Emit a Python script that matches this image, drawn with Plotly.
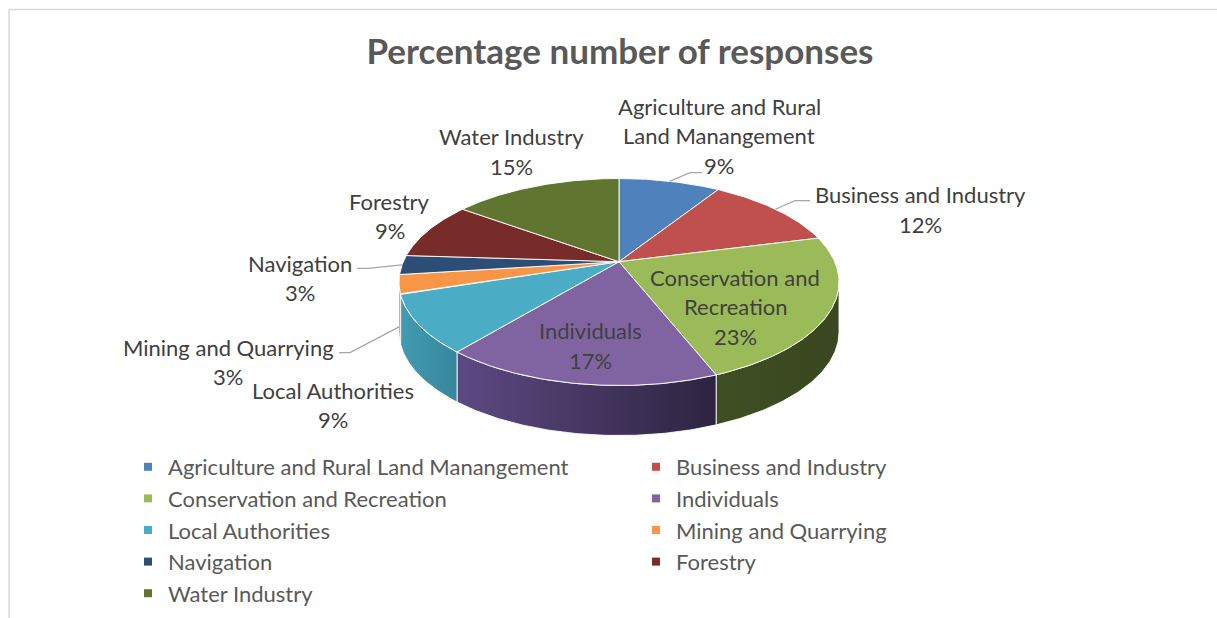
import numpy as np
import plotly.graph_objects as go

# ---- data -------------------------------------------------------------
sectors = [
    "Agriculture and Rural Land Manangement",
    "Business and Industry",
    "Conservation and Recreation",
    "Individuals",
    "Local Authorities",
    "Mining and Quarrying",
    "Navigation",
    "Forestry",
    "Water Industry",
]
shares = [9, 12, 23, 17, 9, 3, 3, 9, 15]

# wrapped names used for the data labels
label_names = [
    "Agriculture and Rural<br>Land Manangement",
    "Business and Industry",
    "Conservation and<br>Recreation",
    "Individuals",
    "Local Authorities",
    "Mining and Quarrying",
    "Navigation",
    "Forestry",
    "Water Industry",
]

top_colors = ["#4F81BD", "#C0504D", "#9BBB59", "#8064A2", "#4BACC6",
              "#F79646", "#2C4D75", "#772C2A", "#5F7530"]
# side-wall shading (left edge colour, right edge colour)
wall_colors = [
    ("#3B618F", "#2F4F75"), ("#934040", "#7A3331"), ("#3F4E23", "#3A4720"),
    ("#5D4982", "#2D2440"), ("#429BB1", "#37879C"), ("#C2773A", "#A8642F"),
    ("#22395A", "#1C304C"), ("#5A2221", "#4A1C1B"), ("#495A25", "#3C4A1F"),
]

# ---- pie geometry (pixel space, y grows downward) ---------------------
CX, CY = 619.0, 282.0      # centre of the projected rim ellipse
RX, RY = 220.0, 103.5      # rim ellipse radii
TILT = -0.196              # perspective shift of the apex towards the back
DEPTH = 50.0               # height of the side wall

label_pos = [(719, 135.5), (920, 209.5), (735, 306.5), (590, 345.5), (333, 405),
             (228, 362), (300, 278), (389.5, 216), (511, 151.5)]
LINE_STEP = 29.5
# leader lines: index -> (depth fraction of anchor, elbow, end)
leaders = {
    0: (0.0, (690, 172.7), (702, 172.7)),
    1: (0.0, (795, 200.7), (810, 200.7)),
    5: (0.85, (350, 352.7), (339, 352.7)),
    6: (0.0, (368, 268.3), (357, 268.3)),
}


def rim(theta_deg):
    """Projected rim point for an angle measured clockwise from 12 o'clock."""
    th = np.radians(theta_deg)
    u, v = np.sin(th), -np.cos(th)
    d = 1.0 + TILT * v
    up = u * np.sqrt(1.0 - TILT ** 2) / d
    vp = (v + TILT) / d
    return CX + RX * up, CY + RY * vp


AX, AY = CX, CY + RY * TILT   # projected pie centre

bounds = np.concatenate([[0], np.cumsum(shares)]) / np.sum(shares) * 360.0
front_lo = np.degrees(np.arccos(TILT))          # right silhouette
front_hi = 360.0 - front_lo                      # left silhouette

fig = go.Figure()

# side walls of the front half
for i in range(len(shares)):
    lo = max(bounds[i], front_lo)
    hi = min(bounds[i + 1], front_hi)
    if hi <= lo:
        continue
    th = np.linspace(lo, hi, 80)
    xs, ys = rim(th)
    px = np.concatenate([xs, xs[::-1], xs[:1]])
    py = np.concatenate([ys, ys[::-1] + DEPTH, ys[:1]])
    lc, rc = wall_colors[i]
    fig.add_trace(go.Scatter(
        x=px, y=py, mode="lines", fill="toself",
        fillcolor=lc,
        fillgradient=dict(type="horizontal",
                          colorscale=[[0, lc], [1, rc]],
                          start=float(xs.min()), stop=float(xs.max())),
        line=dict(color="rgba(255,255,255,0.85)", width=1),
        hoverinfo="skip", showlegend=False))

# top faces
for i in range(len(shares)):
    th = np.linspace(bounds[i], bounds[i + 1], 120)
    xs, ys = rim(th)
    px = np.concatenate([[AX], xs, [AX]])
    py = np.concatenate([[AY], ys, [AY]])
    fig.add_trace(go.Scatter(
        x=px, y=py, mode="lines", fill="toself", fillcolor=top_colors[i],
        line=dict(color="rgba(255,255,255,0.9)", width=1),
        name=sectors[i], hovertemplate=f"{sectors[i]}: {shares[i]}%<extra></extra>",
        showlegend=False))

# leader lines
for i, (frac, elbow, end) in leaders.items():
    mid = 0.5 * (bounds[i] + bounds[i + 1])
    sx, sy = rim(np.array([mid]))
    fig.add_trace(go.Scatter(
        x=[float(sx[0]), elbow[0], end[0]],
        y=[float(sy[0]) + frac * DEPTH, elbow[1], end[1]],
        mode="lines", line=dict(color="#A6A6A6", width=1.3),
        hoverinfo="skip", showlegend=False))

# legend entries
for name, col in zip(sectors, top_colors):
    fig.add_trace(go.Scatter(
        x=[None], y=[None], mode="markers", name=name,
        marker=dict(symbol="square", size=8, color=col)))

# data labels, one annotation per text line
FONT = "Lato, 'Open Sans', sans-serif"
for i, (x, y) in enumerate(label_pos):
    lines = label_names[i].split("<br>") + [f"{shares[i]}%"]
    n = len(lines)
    for k, txt in enumerate(lines):
        fig.add_annotation(
            x=x, y=y + (k - (n - 1) / 2) * LINE_STEP, xref="x", yref="y",
            text=txt, showarrow=False, xanchor="center", yanchor="middle",
            font=dict(family=FONT, size=22, color="#404040"))

# frame edges
fig.add_shape(type="line", xref="paper", yref="paper", x0=9 / 1217, x1=1,
              y0=1 - 9.5 / 618, y1=1 - 9.5 / 618,
              line=dict(color="#D9D9D9", width=1.5))
fig.add_shape(type="line", xref="paper", yref="paper", x0=9 / 1217, x1=9 / 1217,
              y0=0, y1=1 - 9.5 / 618,
              line=dict(color="#D9D9D9", width=1.5))

fig.update_layout(
    width=1217, height=618,
    margin=dict(l=0, r=0, t=0, b=0),
    paper_bgcolor="white", plot_bgcolor="white",
    title=dict(text="<b>Percentage number of responses</b>",
               x=620 / 1217, xanchor="center", xref="paper",
               y=1 - 52 / 618, yanchor="middle", yref="container",
               font=dict(family=FONT, size=35, color="#595959")),
    xaxis=dict(range=[0, 1217], visible=False, fixedrange=True),
    yaxis=dict(range=[618, 0], visible=False, fixedrange=True),
    showlegend=True,
    legend=dict(orientation="h", x=128 / 1217, xanchor="left",
                y=1 - 446 / 618, yanchor="top",
                entrywidth=463, entrywidthmode="pixels",
                font=dict(family=FONT, size=22, color="#595959"),
                bgcolor="rgba(0,0,0,0)", traceorder="normal"),
)

fig.write_html("out.html")
